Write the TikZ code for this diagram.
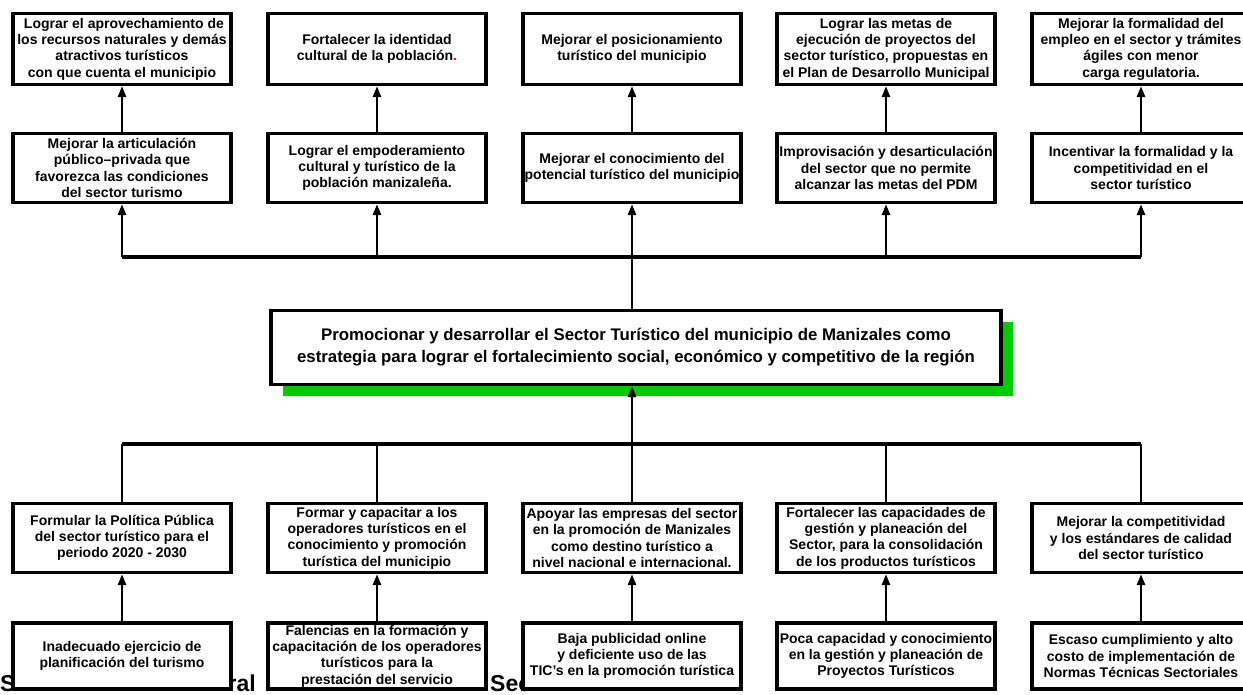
\documentclass[tikz,border=0pt]{standalone}
\usepackage{fontspec}
\setmainfont{Liberation Sans}
\usetikzlibrary{arrows.meta,shadows}
\definecolor{shgreen}{RGB}{0,204,0}
\begin{document}
\begin{tikzpicture}[x=1pt,y=-1pt,
  box/.style={draw=black, line width=3.2pt, fill=white, minimum width=218pt, align=center,
    inner sep=0pt, font=\fontsize{14}{16.3}\selectfont\bfseries},
  r1/.style={box, minimum height=71pt},
  r2/.style={box, minimum height=69pt},
  r3/.style={box, minimum height=69pt},
  r4/.style={box, minimum height=66pt},
  conn/.style={line width=2.6pt},
  arr/.style={conn, -{Triangle[length=11pt,width=8pt]}},
  bus/.style={line width=3.6pt},
  bgtext/.style={font=\fontsize{23}{26}\selectfont\bfseries, inner sep=0pt}
]
\useasboundingbox (0,0) rectangle (1243,694);

% background title fragments (mostly hidden behind boxes)
\node[bgtext, anchor=base west] (bgA) at (0,691) {S};
\node[bgtext, anchor=base east] (bgB) at (256,691) {ral};
\node[bgtext, anchor=base west] (bgC) at (490,691) {Sec};

% row 1
\node[r1] (t1) at (122,49) {\ Lograr el aprovechamiento de\\los recursos naturales y demás\\atractivos turísticos\\con que cuenta el municipio};
\node[r1] (t2) at (377,49) {Fortalecer la identidad\\cultural de la población{\color{red}.}};
\node[r1] (t3) at (632,49) {Mejorar el posicionamiento\\turístico del municipio};
\node[r1] (t4) at (886,49) {Lograr las metas de\\ejecución de proyectos del\\sector turístico, propuestas en\\el Plan de Desarrollo Municipal};
\node[r1] (t5) at (1141,49) {Mejorar la formalidad del\\empleo en el sector y trámites\\ágiles con menor\\carga regulatoria.};

% row 2
\node[r2] (m1) at (122,168) {Mejorar la articulación\\público–privada que\\favorezca las condiciones\\del sector turismo};
\node[r2] (m2) at (377,168) {Lograr el empoderamiento\\cultural y turístico de la\\población manizaleña.};
\node[r2] (m3) at (632,168) {Mejorar el conocimiento del\\potencial turístico del municipio};
\node[r2] (m4) at (886,168) {Improvisación y desarticulación\\del sector que no permite\\alcanzar las metas del PDM};
\node[r2] (m5) at (1141,168) {Incentivar la formalidad y la\\competitividad en el\\sector turístico};

% centre
\node[draw=black, line width=3.2pt, fill=white, minimum width=730pt, minimum height=74pt,
  align=center, font=\fontsize{16.8}{22}\selectfont\bfseries,
  general shadow={fill=shgreen, shadow xshift=12pt, shadow yshift=-11pt}]
  (c) at (636,347.5) {Promocionar y desarrollar el Sector Turístico del municipio de Manizales como\\estrategia para lograr el fortalecimiento social, económico y competitivo de la región};

% row 3
\node[r3] (p1) at (122,538) {Formular la Política Pública\\del sector turístico para el\\periodo 2020 - 2030};
\node[r3] (p2) at (377,538) {Formar y capacitar a los\\operadores turísticos en el\\conocimiento y promoción\\turística del municipio};
\node[r3] (p3) at (632,538) {Apoyar las empresas del sector\\en la promoción de Manizales\\como destino turístico a\\nivel nacional e internacional.};
\node[r3] (p4) at (886,538) {Fortalecer las capacidades de\\gestión y planeación del\\Sector, para la consolidación\\de los productos turísticos};
\node[r3] (p5) at (1141,538) {Mejorar la competitividad\\y los estándares de calidad\\del sector turístico};

% row 4
\node[r4] (q1) at (122,656) {Inadecuado ejercicio de\\planificación del turismo};
\node[r4] (q2) at (377,656) {Falencias en la formación y\\capacitación de los operadores\\turísticos para la\\prestación del servicio};
\node[r4] (q3) at (632,656) {Baja publicidad online\\y deficiente uso de las\\TIC’s en la promoción turística};
\node[r4] (q4) at (886,656) {Poca capacidad y conocimiento\\en la gestión y planeación de\\Proyectos Turísticos};
\node[r4] (q5) at (1141,656) {Escaso cumplimiento y alto\\costo de implementación de\\Normas Técnicas Sectoriales};

% bus coordinates
\coordinate (tb) at (632,257);
\coordinate (bb) at (632,444);

% upper connectors
\draw[bus] (m1.south |- tb) -- (m5.south |- tb);
\foreach \i in {1,...,5} {
  \draw[arr] (m\i.south |- tb) -- (m\i.south);
  \draw[arr] (m\i.north) -- (t\i.south);
}
\draw[conn] (c.north -| m3) -- (tb);

% lower connectors
\draw[bus] (p1.north |- bb) -- (p5.north |- bb);
\foreach \i in {1,...,5} {
  \draw[conn] (p\i.north |- bb) -- (p\i.north);
  \draw[arr] (q\i.north) -- (p\i.south);
}
\draw[arr] (bb) -- (c.south -| p3);
\end{tikzpicture}
\end{document}
